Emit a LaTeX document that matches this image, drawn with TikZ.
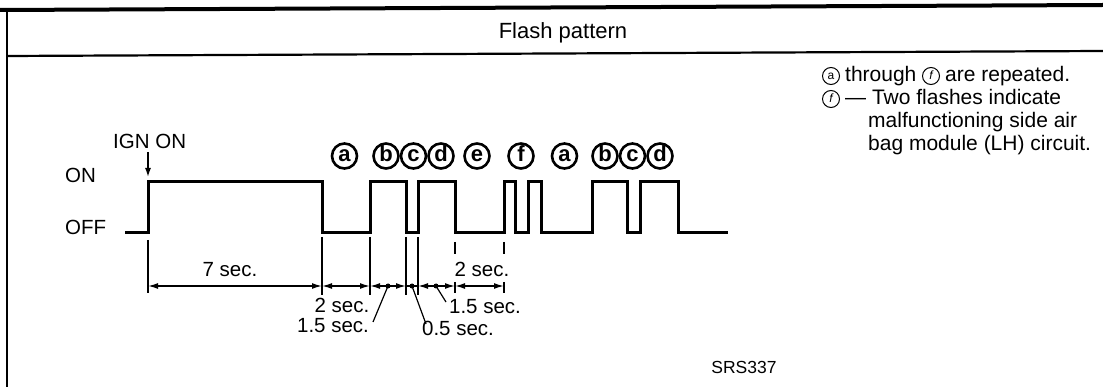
\documentclass[tikz,border=0pt]{standalone}
\usepackage{fontspec}
\setmainfont{Liberation Sans}
\usetikzlibrary{arrows.meta}
\tikzset{
 txt/.style={inner sep=0pt, font=\fontsize{20.5}{24}\selectfont},
 rtxt/.style={inner sep=0pt, anchor=base west, font=\fontsize{21}{25}\selectfont},
 circ/.style={circle, draw, line width=2.6pt, minimum size=25pt, inner sep=0pt, text height=12pt, text depth=0pt, font=\fontsize{22}{22}\selectfont\bfseries},
 scirc/.style={circle, draw, line width=1pt, minimum size=17pt, inner sep=0pt, text height=7.5pt, text depth=0pt, font=\fontsize{12}{12}\selectfont},
 sig/.style={line width=3pt, line join=miter},
 ext/.style={line width=1.2pt},
 dimline/.style={line width=1.5pt, {Latex[length=10pt,width=6pt]}-{Latex[length=10pt,width=6pt]}},
 lead/.style={line width=1.2pt},
 frame/.style={line width=2.2pt},
}
\begin{document}
\begin{tikzpicture}[x=1pt,y=-1pt]
\useasboundingbox (0,0) rectangle (1103,387);
% frame
\draw[line width=4pt] (0,10) -- (1103,5);
\draw[frame] (7,10) -- (7,387);
\draw[frame] (7,56) -- (1103,51);
\node[txt, font=\fontsize{22}{26}\selectfont] (title) at (563,33) {Flash pattern};

% level labels
\node[txt, anchor=west] (on) at (65,175) {ON};
\node[txt, anchor=west] (off) at (65,227) {OFF};
\node[txt, anchor=west] (ign) at (113,141) {IGN\ ON};
\coordinate (ignA) at (148,152);
\coordinate (ignB) at (148,177);
\draw[line width=1.5pt, -{Latex[length=9pt,width=6pt]}] (ignA) -- (ignB);

% signal
\draw[sig] (125,233) -- (148,233) -- (148,182) -- (322,182) -- (322,233) -- (370,233) -- (370,182)
 -- (406,182) -- (406,233) -- (418,233) -- (418,182) -- (455,182) -- (455,233) -- (504,233)
 -- (504,182) -- (515,182) -- (515,233) -- (528,233) -- (528,182) -- (541,182) -- (541,233)
 -- (592,233) -- (592,182) -- (627,182) -- (627,233) -- (640,233) -- (640,182) -- (678,182)
 -- (678,233) -- (728,233);

% circled letters
\node[circ] (ca1) at (344.5,156) {a};
\node[circ] (cb1) at (386,156) {b};
\node[circ] (cc1) at (413.5,156) {c};
\node[circ] (cd1) at (441,156) {d};
\node[circ] (ce1) at (477,156) {e};
\node[circ] (cf1) at (521,156) {f};
\node[circ] (ca2) at (564.5,156) {a};
\node[circ] (cb2) at (605,156) {b};
\node[circ] (cc2) at (632.5,156) {c};
\node[circ] (cd2) at (660,156) {d};

% extension lines
\draw[line width=2pt] (148,240) -- (148,293);
\draw[ext] (322,237) -- (322,295);
\draw[ext] (370,237) -- (370,295);
\draw[ext] (406,237) -- (406,295);
\draw[ext] (418,237) -- (418,295);
\draw[ext] (455,242) -- (455,254);
\draw[ext] (455,282) -- (455,293);
\draw[ext] (504,242) -- (504,254);
\draw[ext] (504,282) -- (504,293);

% dimension arrows
\coordinate (d0) at (148,286);
\coordinate (d1) at (322,286);
\coordinate (d2) at (370,286);
\coordinate (d3) at (406,286);
\coordinate (d4) at (418,286);
\coordinate (d5) at (455,286);
\coordinate (d6) at (504,286);
\draw[dimline] (d0) -- (d1);
\draw[dimline] (d1) -- (d2);
\draw[dimline] (d2) -- (d3);
\draw[line width=1.5pt] (d3) -- (d4);
\draw[dimline] (d4) -- (d5);
\draw[dimline] (d5) -- (d6);

\coordinate (m1) at (388,286);
\coordinate (m2) at (412,286);
\coordinate (m3) at (436,286);
\fill (m1) circle (2.5);
\fill (m2) circle (2.5);
\fill (m3) circle (2.5);

% dimension labels
\node[txt] (l7) at (230,270) {7 sec.};
\node[txt] (l2a) at (342,305) {2 sec.};
\node[txt] (l15a) at (333,326) {1.5 sec.};
\node[txt] (l05) at (458,328) {0.5 sec.};
\node[txt] (l15b) at (485,307) {1.5 sec.};
\node[txt] (l2b) at (482,269) {2 sec.};
\coordinate (q1) at (373,322);
\coordinate (q2) at (426,324);
\coordinate (q3) at (446,302);
\draw[lead] (m1) -- (q1);
\draw[lead] (m2) -- (q2);
\draw[lead] (m3) -- (q3);

% notes
\node[scirc] (na) at (831,76) {a};
\node[rtxt] (n1a) at (845,82) {through};
\node[scirc] (nf1) at (931,76) {\itshape f};
\node[rtxt] (n1b) at (945,82) {are repeated.};
\node[scirc] (nf2) at (831,99) {\itshape f};
\node[rtxt] (n2) at (845,105) {--- Two flashes indicate};
\node[rtxt] (n3) at (868,128) {malfunctioning side air};
\node[rtxt] (n4) at (868,151) {bag module (LH) circuit.};

\node[txt, font=\fontsize{17.5}{20}\selectfont] (srs) at (744,367) {SRS337};
\end{tikzpicture}
\end{document}
